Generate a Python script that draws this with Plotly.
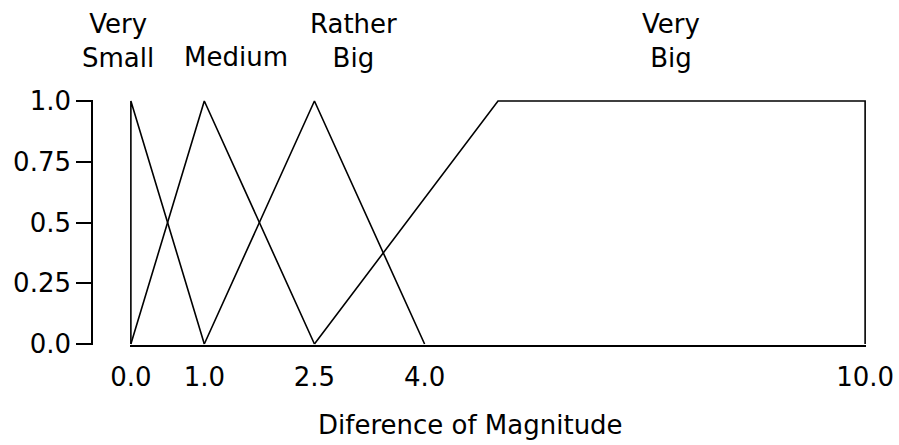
import plotly.graph_objects as go

# membership functions (x = difference of magnitude, y = membership degree)
very_small_x = [0.0, 0.0, 1.0]
very_small_y = [0.0, 1.0, 0.0]
medium_x = [0.0, 1.0, 2.5]
medium_y = [0.0, 1.0, 0.0]
rather_big_x = [1.0, 2.5, 4.0]
rather_big_y = [0.0, 1.0, 0.0]
very_big_x = [2.5, 5.0, 10.0, 10.0]
very_big_y = [0.0, 1.0, 1.0, 0.0]

x_tickvals = [0.0, 1.0, 2.5, 4.0, 10.0]
x_ticktext = ["0.0", "1.0", "2.5", "4.0", "10.0"]
y_tickvals = [0.0, 0.25, 0.5, 0.75, 1.0]
y_ticktext = ["0.0", "0.25", "0.5", "0.75", "1.0"]

labels = ["Very<br>Small", "Medium", "Rather<br>Big", "Very<br>Big"]
label_x = [-0.18, 1.43, 3.03, 7.36]
two_line = [True, False, True, True]

FONT = "DejaVu Sans"
FS = 26

fig = go.Figure()
for xs, ys in [(very_small_x, very_small_y), (medium_x, medium_y),
               (rather_big_x, rather_big_y), (very_big_x, very_big_y)]:
    fig.add_trace(go.Scatter(x=xs, y=ys, mode="lines",
                             line=dict(color="black", width=1.6),
                             showlegend=False, hoverinfo="skip"))

# plot area from px 92 to 866 horizontally
L, R = 92, 866
x0px = 130
d0 = (x0px - L) / (R - L)
XR = [-0.012, 10.012]


def to_paper(v):
    return d0 + (v - XR[0]) / (XR[1] - XR[0]) * (1 - d0)


for name, lx, tl in zip(labels, label_x, two_line):
    fig.add_annotation(x=to_paper(lx), xref="paper", y=1.241 if tl else 1.1755,
                       yref="paper", text=name, showarrow=False,
                       yanchor="middle", xanchor="center",
                       font=dict(family=FONT, size=FS, color="black"))

fig.add_annotation(x=(470 - L) / (R - L), xref="paper", y=-0.3265, yref="paper",
                   text="Diference of Magnitude", showarrow=False,
                   xanchor="center", yanchor="middle",
                   font=dict(family=FONT, size=FS, color="black"))

fig.update_layout(
    width=899, height=445,
    margin=dict(l=L, r=899 - R, t=100, b=100, autoexpand=False),
    paper_bgcolor="white", plot_bgcolor="white",
    font=dict(family=FONT, size=FS, color="black"),
    xaxis=dict(domain=[d0, 1], range=XR, tickvals=x_tickvals,
               ticktext=x_ticktext, showgrid=False, zeroline=False,
               showline=True, linecolor="black", linewidth=1.6, ticks="",
               ticklabelstandoff=8, fixedrange=True, automargin=False),
    yaxis=dict(anchor="free", position=0, range=[-0.004, 1.004],
               tickvals=y_tickvals, ticktext=y_ticktext, showgrid=False,
               zeroline=False, showline=True, linecolor="black",
               linewidth=1.6, ticks="outside", ticklen=15, tickwidth=1.6,
               tickcolor="black", fixedrange=True, automargin=False),
)

fig.write_html("out.html", config={"displayModeBar": False},
               post_script="document.body.style.margin='0';")
